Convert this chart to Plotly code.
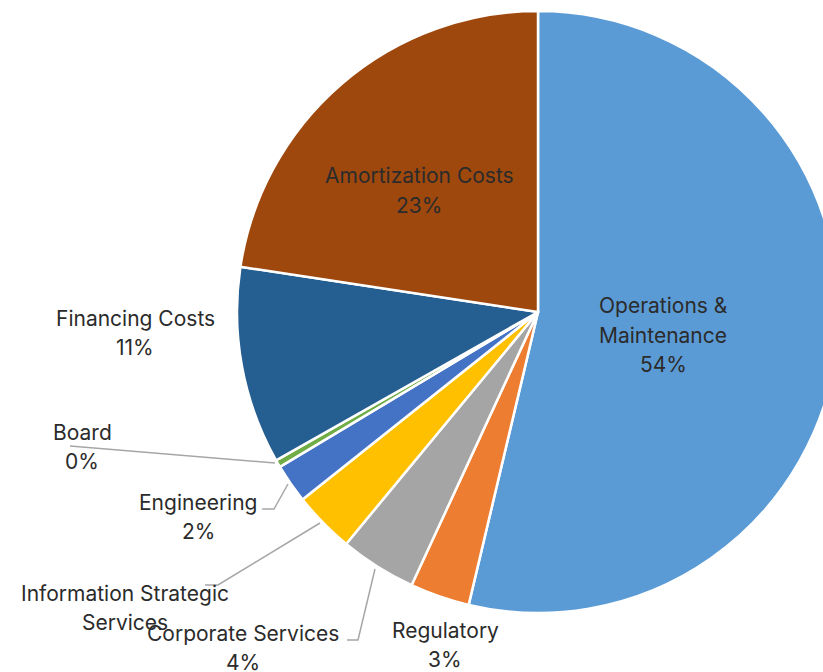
import plotly.graph_objects as go

# Budget share by department
categories = [
    "Operations & Maintenance",
    "Regulatory",
    "Corporate Services",
    "Information Strategic Services",
    "Engineering",
    "Board",
    "Financing Costs",
    "Amortization Costs",
]
shares = [53.7, 3.2, 4.1, 3.3, 2.1, 0.4, 10.6, 22.6]
colors = ["#5B9BD5", "#ED7D31", "#A5A5A5", "#FFC000", "#4472C4", "#70AD47", "#255E91", "#9E480E"]

# Wrapped label lines for each slice
label_lines = {
    "Operations & Maintenance": ["Operations &", "Maintenance"],
    "Regulatory": ["Regulatory"],
    "Corporate Services": ["Corporate Services"],
    "Information Strategic Services": ["Information Strategic", "Services"],
    "Engineering": ["Engineering"],
    "Board": ["Board"],
    "Financing Costs": ["Financing Costs"],
    "Amortization Costs": ["Amortization Costs"],
}
# Slices whose percentage line is not drawn
hide_pct = {"Information Strategic Services"}

W, H = 845, 672
CX, CY, R = 538, 312, 301

def px(x):
    return x / W

def py(y):
    return 1 - y / H

fig = go.Figure()
fig.add_trace(go.Pie(
    labels=categories,
    values=shares,
    sort=False,
    direction="clockwise",
    rotation=0,
    marker=dict(colors=colors, line=dict(color="white", width=2.5)),
    textinfo="none",
    hoverinfo="label+percent",
    showlegend=False,
    domain=dict(x=[px(CX - R), px(CX + R)], y=[py(CY + R), py(CY - R)]),
))

total = sum(shares)
# label anchor positions (centre of text block top line), pixels
label_pos = {
    "Operations & Maintenance": (663, 306),
    "Amortization Costs": (419, 176),
    "Financing Costs": (135, 318),
    "Board": (82, 432),
    "Engineering": (198, 502),
    "Information Strategic Services": (125, 593),
    "Corporate Services": (243, 633),
    "Regulatory": (445, 630),
}
LINE = 29
font = dict(family="Inter, Noto Sans, sans-serif", size=21, color="#2B2B2B")

for cat, val in zip(categories, shares):
    lines = list(label_lines[cat])
    if cat not in hide_pct:
        lines.append(f"{round(val / total * 100):.0f}%")
    x0, y0 = label_pos[cat]
    for i, t in enumerate(lines):
        fig.add_annotation(
            x=px(x0), y=py(y0 + i * LINE), xref="paper", yref="paper",
            text=t, showarrow=False, font=font,
            xanchor="center", yanchor="middle",
        )

# leader lines (pixel polylines)
leaders = [
    [(70, 446), (275, 463)],
    [(262, 509), (274, 509), (288, 484)],
    [(205, 585), (218, 585), (320, 523)],
    [(347, 640), (358, 640), (375, 569)],
]
for pts in leaders:
    path = "M " + " L ".join(f"{px(x)},{py(y)}" for x, y in pts)
    fig.add_shape(type="path", path=path, xref="paper", yref="paper",
                  line=dict(color="#A6A6A6", width=1.5))

fig.update_layout(
    width=W, height=H, autosize=False,
    margin=dict(l=0, r=0, t=0, b=0),
    paper_bgcolor="white", plot_bgcolor="white",
)

fig.write_html("out.html")
